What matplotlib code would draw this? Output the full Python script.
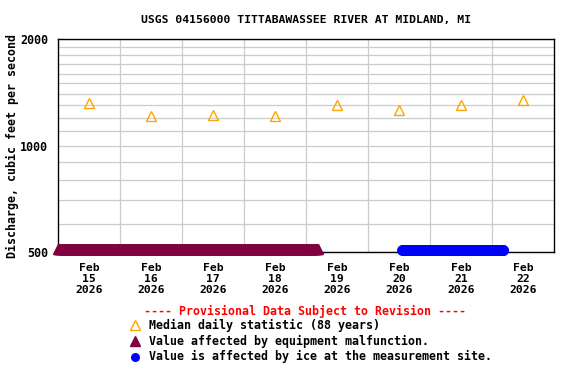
import numpy as np
import matplotlib
matplotlib.use("Agg")
import matplotlib.pyplot as plt
from matplotlib import transforms
from matplotlib.ticker import FixedLocator, NullFormatter

# day-of-February positions (noon of label days sit at integer values)
days = [15, 16, 17, 18, 19, 20, 21, 22]
day_labels = ["Feb\n%d\n2026" % d for d in days]
median_cfs = [1318, 1212, 1220, 1211, 1301, 1264, 1301, 1344]

# qualifier periods (day of Feb, fractional), values below the plot range
malfunction_start, malfunction_end = 14.5, 18.69
ice_start, ice_end = 20.05, 21.69

y_major = [500, 1000, 2000]
y_minor = [600, 700, 800, 900, 1100, 1200, 1300, 1400, 1500, 1600, 1700, 1800, 1900]

font = "DejaVu Sans Mono"
plt.rcParams["font.family"] = font
plt.rcParams["font.weight"] = "bold"
plt.rcParams["axes.titleweight"] = "bold"
plt.rcParams["axes.labelweight"] = "bold"

fig = plt.figure(figsize=(5.76, 3.84), dpi=100)
ax = fig.add_axes([58 / 576, 1 - 252 / 384, 496 / 576, 212.7 / 384])

ax.set_yscale("log")
ax.set_ylim(500, 2000)
ax.set_xlim(14.5, 22.5)

# grid
ax.set_xticks(days)
ax.set_xticklabels(day_labels, fontsize=8.2, linespacing=1.1)
ax.xaxis.set_minor_locator(FixedLocator(np.arange(15.5, 22.5, 1.0)))
ax.yaxis.set_major_locator(FixedLocator(y_major))
ax.yaxis.set_minor_locator(FixedLocator(y_minor))
ax.yaxis.set_minor_formatter(NullFormatter())
ax.set_yticklabels([str(v) for v in y_major], fontsize=8.4)
ax.grid(which="minor", color="#cccccc", linewidth=0.9)
ax.grid(which="major", axis="y", color="#cccccc", linewidth=0.9)
ax.tick_params(which="both", length=0)
ax.tick_params(axis="x", pad=8)
ax.tick_params(axis="y", pad=7)
for s in ax.spines.values():
    s.set_linewidth(1.0)
ax.set_axisbelow(True)

ax.set_ylabel("Discharge, cubic feet per second", fontsize=8.4, labelpad=1)
ax.set_title("USGS 04156000 TITTABAWASSEE RIVER AT MIDLAND, MI", fontsize=8.2, pad=12)

# median daily statistic
ax.plot(days, median_cfs, linestyle="none", marker="^", markersize=7,
        markerfacecolor="none", markeredgecolor="#ffa500", markeredgewidth=1.0)

# qualifier bands drawn as dense markers at the bottom of the plot
t_mal = np.arange(malfunction_start, malfunction_end + 1e-9, 1 / 96)
t_ice = np.arange(ice_start, ice_end + 1e-9, 1 / 96)
up3 = transforms.offset_copy(ax.transData, fig=fig, x=0, y=3, units="dots")
up2 = transforms.offset_copy(ax.transData, fig=fig, x=0, y=2, units="dots")
ax.plot(t_mal, np.full(len(t_mal), 500), linestyle="none", marker="^", markersize=6.5,
        color="#800040", transform=up3, clip_on=False, zorder=3)
ax.plot(t_ice, np.full(len(t_ice), 500), linestyle="none", marker="o", markersize=6.8,
        color="#0000ff", transform=up2, clip_on=False, zorder=3)

# legend block
fig.text(305 / 576, 1 - 311 / 384, "---- Provisional Data Subject to Revision ----",
         color="red", fontsize=8.4, ha="center", va="center")
legend_rows = [
    (325, "Median daily statistic (88 years)", dict(marker="^", markersize=6.5, markerfacecolor="none",
                                                    markeredgecolor="#ffa500", markeredgewidth=1.0)),
    (341, "Value affected by equipment malfunction.", dict(marker="^", markersize=6.5, color="#800040")),
    (356.5, "Value is affected by ice at the measurement site.", dict(marker="o", markersize=5.5, color="#0000ff")),
]
for py, label, style in legend_rows:
    fig.lines.append(plt.Line2D([135 / 576], [1 - py / 384], transform=fig.transFigure,
                                linestyle="none", **style))
    fig.text(149 / 576, 1 - py / 384, label, fontsize=8.4, ha="left", va="center")

fig.savefig("out.png", dpi=100)
